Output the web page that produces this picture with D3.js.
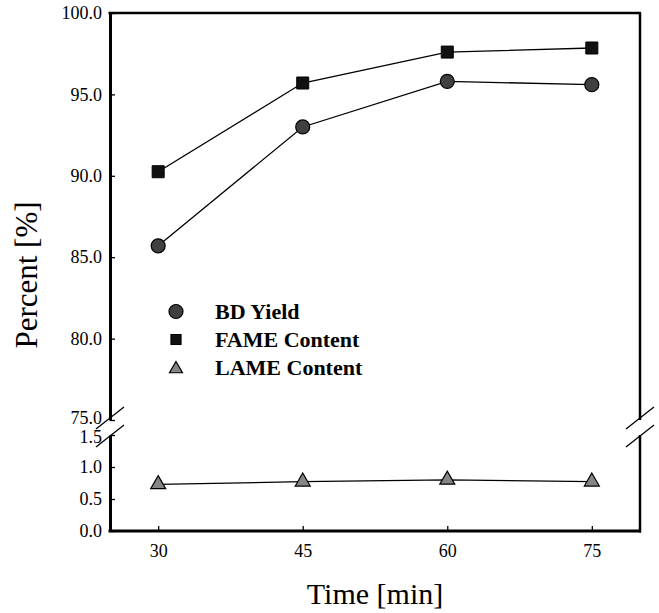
<!DOCTYPE html>
<html>
<head>
<meta charset="utf-8">
<script src="https://cdn.jsdelivr.net/npm/d3@7"></script>
<style>
  body { margin: 0; background: #fff; }
  text { font-family: "Liberation Serif", "Times New Roman", serif; fill: #000; }
</style>
</head>
<body>
<script>
// data
var times = [30, 45, 60, 75];
var bdYield = [85.7, 93.0, 95.8, 95.6];
var fameContent = [90.25, 95.7, 97.6, 97.85];
var lameContent = [0.73, 0.77, 0.80, 0.77];
var xTicks = [30, 45, 60, 75];
var yTicksTop = [75, 80, 85, 90, 95, 100];
var yTicksBottom = [0, 0.5, 1.0, 1.5];
var legendNames = ["BD Yield", "FAME Content", "LAME Content"];

var width = 659, height = 613;
var plotL = 110, plotR = 640, plotT = 13, plotB = 531;

var svg = d3.select("body").append("svg")
    .attr("width", width)
    .attr("height", height);

var x = d3.scaleLinear().domain([25, 80]).range([plotL, plotR]);
var yTop = d3.scaleLinear().domain([75, 100]).range([420, plotT]);
var yBot = d3.scaleLinear().domain([0, 1.5]).range([plotB, 435]);

// axes (ticks point inward)
var gx = svg.append("g")
    .attr("transform", "translate(0," + plotB + ")")
    .call(d3.axisBottom(x).tickValues(xTicks).tickSize(-5).tickSizeOuter(0).tickPadding(13));
gx.select(".domain").attr("stroke-width", 3).attr("d", "M" + (plotL - 1.5) + ",0H" + (plotR + 1));

var gyT = svg.append("g")
    .attr("transform", "translate(" + plotL + ",0)")
    .call(d3.axisLeft(yTop).tickValues(yTicksTop).tickFormat(d3.format(".1f"))
        .tickSize(-5).tickSizeOuter(0).tickPadding(8));
var gyB = svg.append("g")
    .attr("transform", "translate(" + plotL + ",0)")
    .call(d3.axisLeft(yBot).tickValues(yTicksBottom).tickFormat(d3.format(".1f"))
        .tickSize(-5).tickSizeOuter(0).tickPadding(8));

[gyT, gyB].forEach(function(g) {
    g.select(".domain").attr("stroke-width", 3);
});
svg.selectAll(".tick text").style("font-size", "18px").style("font-family", "Liberation Serif");
svg.selectAll(".tick line").attr("stroke-width", 1.3);
// labels either side of the break sit very close, pull them apart a little
gyT.selectAll(".tick text").filter(function(d) { return d == 75; }).attr("dy", "0.22em");
gyB.selectAll(".tick text").filter(function(d) { return d == 1.5; }).attr("dy", "0.42em");

// top and right frame
svg.append("line").attr("x1", plotL - 1.5).attr("x2", plotR + 1).attr("y1", plotT).attr("y2", plotT)
    .attr("stroke", "#000").attr("stroke-width", 2.5);
svg.append("line").attr("x1", plotR).attr("x2", plotR).attr("y1", plotT).attr("y2", yTop(75))
    .attr("stroke", "#000").attr("stroke-width", 2.5);
svg.append("line").attr("x1", plotR).attr("x2", plotR).attr("y1", yBot(1.5)).attr("y2", plotB + 1.5)
    .attr("stroke", "#000").attr("stroke-width", 2.5);

// axis break marks
[plotL, plotR].forEach(function(ax) {
    [yTop(75) - 2, yBot(1.5) + 1].forEach(function(cy) {
        svg.append("line")
            .attr("x1", ax - 14).attr("y1", cy + 11)
            .attr("x2", ax + 14).attr("y2", cy - 11)
            .attr("stroke", "#000").attr("stroke-width", 1.3);
    });
});

// lines
var lineTop = d3.line().x(function(d) { return x(d[0]); }).y(function(d) { return yTop(d[1]); });
var lineBot = d3.line().x(function(d) { return x(d[0]); }).y(function(d) { return yBot(d[1]); });

var bdPts = d3.zip(times, bdYield);
var famePts = d3.zip(times, fameContent);
var lamePts = d3.zip(times, lameContent);

svg.append("path").attr("d", lineTop(bdPts)).attr("fill", "none").attr("stroke", "#000").attr("stroke-width", 1.3);
svg.append("path").attr("d", lineTop(famePts)).attr("fill", "none").attr("stroke", "#000").attr("stroke-width", 1.3);
svg.append("path").attr("d", lineBot(lamePts)).attr("fill", "none").attr("stroke", "#000").attr("stroke-width", 1.3);

var circ = d3.symbol().type(d3.symbolCircle).size(Math.PI * 7 * 7);
var sq = d3.symbol().type(d3.symbolSquare).size(12 * 12);
var tri = d3.symbol().type(d3.symbolTriangle).size(Math.sqrt(3) / 4 * 15 * 15);

svg.selectAll(".bd").data(bdPts).enter().append("path")
    .attr("transform", function(d) { return "translate(" + x(d[0]) + "," + yTop(d[1]) + ")"; })
    .attr("d", circ).attr("fill", "#404040").attr("stroke", "#000").attr("stroke-width", 1.2);
svg.selectAll(".fame").data(famePts).enter().append("path")
    .attr("transform", function(d) { return "translate(" + x(d[0]) + "," + yTop(d[1]) + ")"; })
    .attr("d", sq).attr("fill", "#111").attr("stroke", "#000").attr("stroke-width", 1);
svg.selectAll(".lame").data(lamePts).enter().append("path")
    .attr("transform", function(d) { return "translate(" + x(d[0]) + "," + yBot(d[1]) + ")"; })
    .attr("d", tri).attr("fill", "#858585").attr("stroke", "#000").attr("stroke-width", 1.2);

// legend
var legSyms = [
    { s: d3.symbol().type(d3.symbolCircle).size(Math.PI * 7 * 7), f: "#404040" },
    { s: d3.symbol().type(d3.symbolSquare).size(10 * 10), f: "#111" },
    { s: d3.symbol().type(d3.symbolTriangle).size(Math.sqrt(3) / 4 * 13 * 13), f: "#858585" }
];
var leg = svg.append("g");
legendNames.forEach(function(name, i) {
    var cy = 311.5 + i * 28;
    leg.append("path")
        .attr("transform", "translate(176," + (cy + (i == 2 ? 1.5 : 0)) + ")")
        .attr("d", legSyms[i].s).attr("fill", legSyms[i].f)
        .attr("stroke", "#000").attr("stroke-width", 1.2);
    leg.append("text")
        .attr("x", 215).attr("y", cy + 7.5)
        .style("font-size", "22px").style("font-weight", "bold")
        .text(name);
});

// axis titles
svg.append("text")
    .attr("x", (plotL + plotR) / 2).attr("y", 604)
    .attr("text-anchor", "middle")
    .style("font-size", "30px")
    .text("Time [min]");
svg.append("text")
    .attr("transform", "translate(37,275) rotate(-90)")
    .attr("text-anchor", "middle")
    .style("font-size", "31px")
    .text("Percent [%]");
</script>
</body>
</html>
